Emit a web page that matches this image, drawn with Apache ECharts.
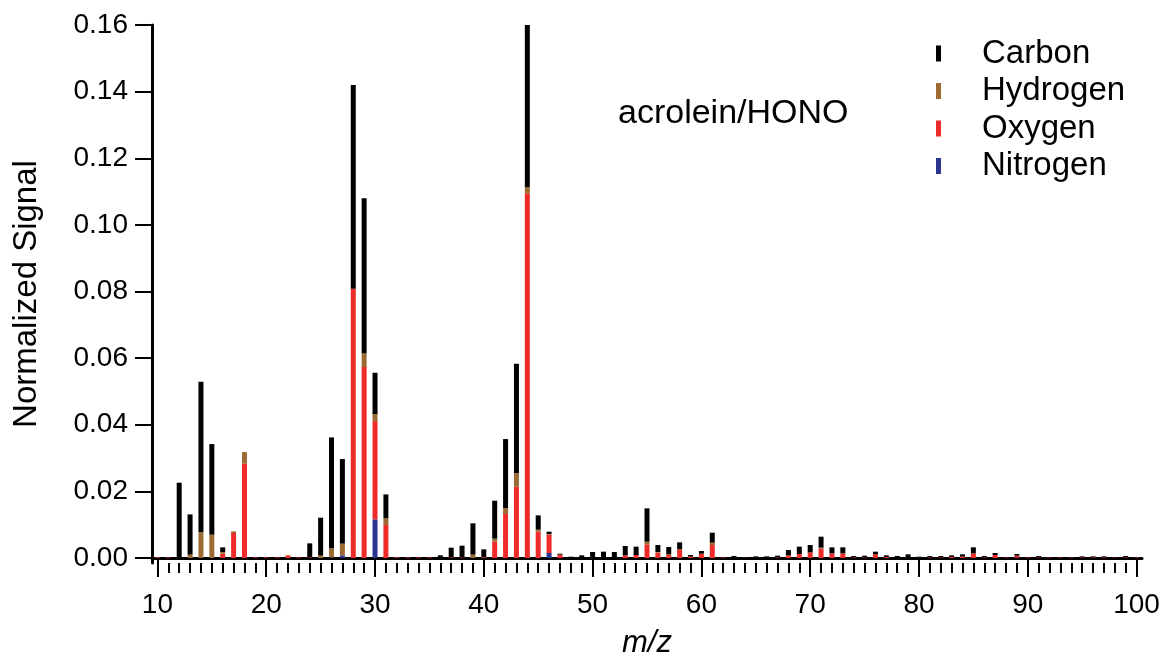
<!DOCTYPE html>
<html>
<head>
<meta charset="utf-8">
<script src="https://cdn.jsdelivr.net/npm/echarts@6/dist/echarts.min.js"></script>
<style>
  html, body { margin: 0; padding: 0; background: #fff; }
  #chart { width: 1165px; height: 663px; }
</style>
</head>
<body>
<div id="chart"></div>
<script>
// m/z 10 .. 100
const mz = [];
for (let m = 10; m <= 100; m++) mz.push(String(m));

// contributions per element (index 0 = m/z 10)
const carbon = [
  0, 0, 0.0226, 0.0121, 0.0452, 0.0272, 0.0014, 0, 0, 0,          // 10-19
  0, 0, 0, 0, 0.0042, 0.0114, 0.0333, 0.0254, 0.0612, 0.0465,    // 20-29
  0.0124, 0.0072, 0, 0, 0, 0, 0.0008, 0.0029, 0.0035, 0.0094,    // 30-39
  0.0023, 0.0114, 0.0207, 0.0328, 0.0487, 0.0043, 0.0007, 0.0003, 0.0003, 0.0008, // 40-49
  0.0018, 0.0019, 0.0018, 0.0028, 0.0025, 0.0100, 0.0021, 0.0022, 0.0020, 0.0005, // 50-59
  0.0008, 0.0030, 0.0001, 0.0005, 0.0001, 0.0004, 0.0004, 0.0005, 0.0016, 0.0022, // 60-69
  0.0022, 0.0033, 0.0018, 0.0018, 0.0004, 0.0005, 0.0008, 0.0005, 0.0006, 0.0010, // 70-79
  0.0003, 0.0004, 0.0004, 0.0005, 0.0007, 0.0018, 0.0004, 0.0006, 0.0001, 0.0005, // 80-89
  0.0001, 0.0004, 0.0001, 0.0001, 0.0001, 0.0003, 0.0003, 0.0003, 0, 0.0004,     // 90-99
  0.0001                                                          // 100
];
const hydrogen = [
  0, 0, 0, 0.0010, 0.0077, 0.0070, 0.0005, 0.0005, 0.0035, 0,
  0, 0, 0.0002, 0, 0, 0.0007, 0.0027, 0.0035, 0, 0.0042,
  0.0021, 0.0020, 0, 0, 0, 0, 0, 0, 0, 0.0010,
  0.0001, 0.0009, 0.0018, 0.0041, 0.0018, 0.0006, 0.0002, 0, 0, 0,
  0, 0, 0, 0, 0, 0.0008, 0.0002, 0.0002, 0.0003, 0,
  0, 0.0007, 0, 0, 0, 0, 0, 0, 0, 0,
  0, 0.0003, 0, 0, 0, 0, 0, 0, 0, 0,
  0, 0, 0, 0, 0, 0, 0, 0, 0, 0,
  0, 0, 0, 0, 0, 0, 0, 0, 0, 0,
  0
];
const oxygen = [
  0.0002, 0.0002, 0, 0, 0, 0, 0.0013, 0.0075, 0.0283, 0.0002,
  0.0002, 0.0002, 0.0007, 0.0002, 0.0002, 0, 0, 0, 0.0808, 0.0573,
  0.0295, 0.0099, 0.0002, 0.0002, 0.0002, 0.0002, 0, 0.0002, 0.0002, 0,
  0.0002, 0.0049, 0.0132, 0.0214, 0.1095, 0.0079, 0.0055, 0.0010, 0.0001, 0,
  0, 0, 0, 0.0008, 0.0009, 0.0041, 0.0016, 0.0009, 0.0024, 0.0004,
  0.0013, 0.0039, 0.0002, 0.0001, 0.0001, 0.0001, 0.0001, 0.0002, 0.0008, 0.0012,
  0.0017, 0.0028, 0.0014, 0.0014, 0.0002, 0.0002, 0.0011, 0.0003, 0, 0.0001,
  0.0001, 0.0002, 0.0002, 0.0003, 0.0004, 0.0014, 0.0002, 0.0009, 0.0002, 0.0006,
  0.0002, 0.0002, 0.0002, 0.0002, 0.0002, 0.0002, 0.0002, 0.0002, 0.0001, 0.0002,
  0.0002
];
const nitrogen = [
  0, 0, 0, 0, 0, 0, 0, 0, 0, 0,
  0, 0, 0, 0, 0, 0, 0.0002, 0.0008, 0, 0,
  0.0116, 0, 0.0001, 0, 0, 0, 0, 0, 0, 0,
  0, 0, 0, 0, 0, 0, 0.0015, 0, 0, 0,
  0, 0, 0, 0, 0, 0, 0, 0, 0, 0,
  0, 0, 0, 0, 0, 0, 0, 0, 0, 0,
  0, 0, 0, 0, 0, 0, 0, 0, 0, 0,
  0, 0, 0, 0, 0, 0, 0, 0, 0, 0.0001,
  0, 0, 0, 0, 0, 0, 0, 0, 0, 0,
  0
];

const yTicks = [0, 0.02, 0.04, 0.06, 0.08, 0.10, 0.12, 0.14, 0.16];

const colors = {
  Carbon: '#000000',
  Hydrogen: '#9c6b31',
  Oxygen: '#ee2a2a',
  Nitrogen: '#2b3590'
};

const font = '"Liberation Sans", Arial, Helvetica, sans-serif';

function barSeries(name, vals) {
  return {
    name: name,
    type: 'bar',
    stack: 'total',
    barWidth: 5,
    xAxisIndex: 0,
    itemStyle: { color: colors[name] },
    emphasis: { disabled: true },
    data: vals
  };
}

const chart = echarts.init(document.getElementById('chart'), null, { renderer: 'canvas' });

const option = {
  backgroundColor: '#ffffff',
  animation: false,
  title: {
    text: 'acrolein/HONO',
    left: 613,
    top: 92,
    textStyle: { fontFamily: font, fontSize: 34, fontWeight: 'normal', color: '#000' }
  },
  legend: {
    data: ['Carbon', 'Hydrogen', 'Oxygen', 'Nitrogen'],
    orient: 'vertical',
    left: 931,
    top: 32,
    icon: 'rect',
    itemWidth: 5,
    itemHeight: 16,
    itemGap: 4.5,
    textStyle: {
      fontFamily: font, fontSize: 33, color: '#000',
      padding: [0, 0, 0, 36], lineHeight: 33
    }
  },
  grid: { left: 152, right: 23, top: 25, bottom: 100, containLabel: false, outerBoundsMode: 'none' },
  xAxis: [{
    type: 'category',
    data: mz,
    boundaryGap: true,
    name: 'm/z',
    nameLocation: 'middle',
    nameGap: 65,
    nameTextStyle: { fontFamily: font, fontSize: 31, fontStyle: 'italic', color: '#000' },
    axisLine: { show: true, lineStyle: { color: '#000', width: 3 } },
    axisTick: { show: true, alignWithLabel: true, interval: 9, length: 19, lineStyle: { color: '#000', width: 2 } },
    axisLabel: { show: true, interval: 9, margin: 28, fontFamily: font, fontSize: 28, color: '#000' },
    splitLine: { show: false }
  }, {
    type: 'category',
    data: mz,
    boundaryGap: true,
    position: 'bottom',
    axisLine: { show: false },
    axisTick: { show: true, alignWithLabel: true, interval: 0, length: 10, lineStyle: { color: '#000', width: 2 } },
    axisLabel: { show: false },
    splitLine: { show: false }
  }],
  yAxis: {
    type: 'value',
    min: -0.0015,
    max: 0.16,
    name: 'Normalized Signal',
    nameLocation: 'middle',
    nameGap: 109,
    nameTextStyle: { fontFamily: font, fontSize: 33, color: '#000' },
    axisLine: { show: true, lineStyle: { color: '#000', width: 3 } },
    axisTick: { show: true, length: 17, lineStyle: { color: '#000', width: 2 }, customValues: yTicks },
    axisLabel: {
      show: true, margin: 24, fontFamily: font, fontSize: 28, color: '#000',
      customValues: yTicks,
      formatter: v => v.toFixed(2)
    },
    splitLine: { show: false }
  },
  series: [
    barSeries('Nitrogen', nitrogen),
    barSeries('Oxygen', oxygen),
    barSeries('Hydrogen', hydrogen),
    barSeries('Carbon', carbon)
  ]
};

chart.setOption(option);
</script>
</body>
</html>
